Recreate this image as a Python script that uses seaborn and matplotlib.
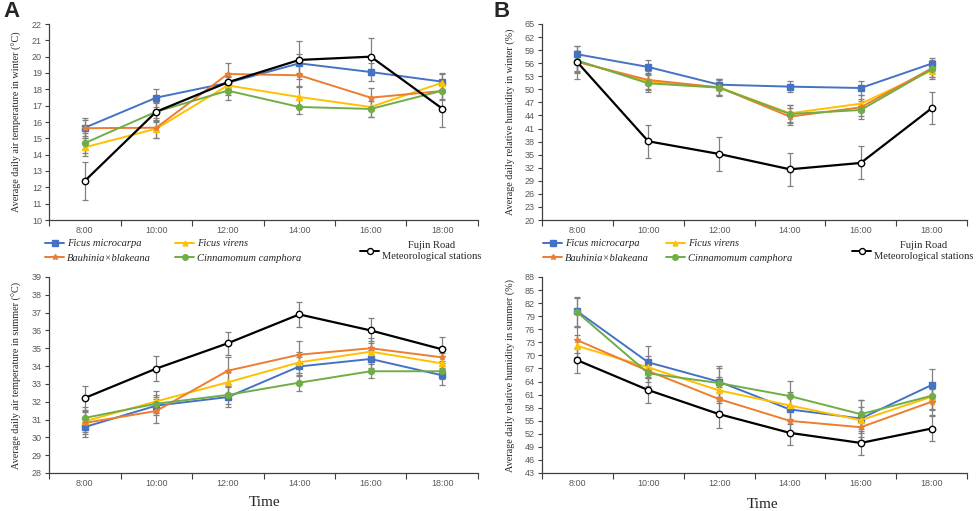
import numpy as np
import matplotlib
matplotlib.use("Agg")
import matplotlib.pyplot as plt
import seaborn as sns
from matplotlib.lines import Line2D

# ---- data ----
times = ["8:00", "10:00", "12:00", "14:00", "16:00", "18:00"]
series_names = ["Ficus microcarpa", "Ficus virens", "Bauhinia×blakeana",
                "Cinnamomum camphora", "Fujin Road\nMeteorological stations"]

# winter air temperature (°C)
temp_winter_microcarpa = [15.65, 17.49, 18.40, 19.59, 19.06, 18.47]
temp_winter_virens = [14.45, 15.59, 18.24, 17.53, 16.92, 18.41]
temp_winter_bauhinia = [15.62, 15.65, 18.94, 18.86, 17.49, 17.90]
temp_winter_camphora = [14.71, 16.63, 17.92, 16.92, 16.80, 17.92]
temp_winter_fujin = [12.39, 16.63, 18.43, 19.80, 20.00, 16.82]
temp_winter_err_microcarpa = [0.60, 0.55, 0.35, 0.60, 0.55, 0.55]
temp_winter_err_virens = [0.55, 0.55, 0.60, 0.60, 0.60, 0.55]
temp_winter_err_bauhinia = [0.50, 0.60, 0.65, 0.65, 0.60, 0.50]
temp_winter_err_camphora = [0.60, 0.55, 0.60, 0.40, 0.50, 0.55]
temp_winter_err_fujin = [1.15, 0.60, 0.50, 1.15, 1.15, 1.15]

# summer air temperature (°C)
temp_summer_microcarpa = [30.58, 31.78, 32.26, 33.98, 34.40, 33.48]
temp_summer_virens = [30.90, 32.02, 33.09, 34.21, 34.81, 34.15]
temp_summer_bauhinia = [30.81, 31.48, 33.74, 34.64, 35.00, 34.49]
temp_summer_camphora = [31.09, 31.89, 32.38, 33.07, 33.71, 33.71]
temp_summer_fujin = [32.21, 33.86, 35.28, 36.90, 36.00, 34.94]
temp_summer_err_microcarpa = [0.55, 0.50, 0.55, 0.55, 0.50, 0.55]
temp_summer_err_virens = [0.60, 0.60, 0.60, 0.60, 0.60, 0.60]
temp_summer_err_bauhinia = [0.60, 0.70, 0.75, 0.75, 0.60, 0.60]
temp_summer_err_camphora = [0.60, 0.50, 0.50, 0.45, 0.40, 0.45]
temp_summer_err_fujin = [0.68, 0.68, 0.66, 0.68, 0.68, 0.68]

# winter relative humidity (%)
rh_winter_microcarpa = [58.04, 55.13, 51.07, 50.62, 50.31, 55.90]
rh_winter_virens = [56.40, 51.76, 50.46, 44.50, 46.70, 54.30]
rh_winter_bauhinia = [56.28, 52.15, 50.46, 43.73, 45.87, 54.82]
rh_winter_camphora = [56.60, 51.38, 50.39, 44.34, 45.26, 54.60]
rh_winter_fujin = [56.20, 38.07, 35.16, 31.64, 33.10, 45.64]
rh_winter_err_microcarpa = [2.0, 1.5, 1.3, 1.3, 1.5, 1.3]
rh_winter_err_virens = [2.5, 2.0, 2.0, 2.0, 2.0, 2.0]
rh_winter_err_bauhinia = [2.5, 2.0, 1.8, 2.0, 2.0, 2.0]
rh_winter_err_camphora = [2.3, 2.0, 1.8, 2.0, 2.0, 1.8]
rh_winter_err_fujin = [3.8, 3.8, 3.8, 3.8, 3.8, 3.7]

# summer relative humidity (%)
rh_summer_microcarpa = [80.09, 68.41, 63.96, 57.59, 55.51, 63.19]
rh_summer_virens = [72.18, 67.26, 61.96, 58.51, 55.13, 60.50]
rh_summer_bauhinia = [73.48, 66.42, 59.97, 54.97, 53.51, 59.35]
rh_summer_camphora = [79.86, 65.88, 63.65, 60.65, 56.51, 60.73]
rh_summer_fujin = [68.88, 62.04, 56.51, 52.21, 49.90, 53.21]
rh_summer_err_microcarpa = [3.4, 3.7, 3.5, 3.3, 4.3, 3.8]
rh_summer_err_virens = [2.5, 2.5, 3.0, 3.0, 3.0, 3.0]
rh_summer_err_bauhinia = [3.0, 2.5, 2.7, 3.0, 3.0, 3.0]
rh_summer_err_camphora = [3.4, 3.0, 3.5, 3.4, 3.3, 3.0]
rh_summer_err_fujin = [2.9, 2.9, 3.1, 2.8, 2.8, 2.8]

# ---- styling ----
sns.set_style("ticks")
plt.rcParams["font.family"] = ["Liberation Sans", "DejaVu Sans"]

styles = [
    dict(color="#4472C4", marker="s", markersize=4.8, mfc="#4472C4"),
    dict(color="#FFC000", marker="^", markersize=3.8, mfc="#FFC000"),
    dict(color="#ED7D31", marker="*", markersize=4.2, mfc="#ED7D31"),
    dict(color="#70AD47", marker="o", markersize=4.3, mfc="#70AD47"),
    dict(color="black", marker="o", markersize=4.6, mfc="white"),
]
x = np.arange(len(times))
tick_grey = "#595959"
serif = ["Liberation Serif", "DejaVu Serif"]

W, H = 976, 511
fig = plt.figure(figsize=(W / 100, H / 100), dpi=100)


def px_axes(l, t, r, b):
    return fig.add_axes([l / W, 1 - b / H, (r - l) / W, (b - t) / H])


def draw_panel(ax, values, errors, ylim, step, ylabel):
    for vals, errs in zip(values, errors):
        ax.errorbar(x, vals, yerr=errs, fmt="none", ecolor="#808080",
                    elinewidth=0.9, capsize=2.5, capthick=0.9, zorder=2)
    for vals, st in zip(values, styles):
        sns.lineplot(x=x, y=vals, ax=ax, color=st["color"], marker=st["marker"],
                     markersize=st["markersize"], markerfacecolor=st["mfc"],
                     markeredgecolor=st["color"], markeredgewidth=1,
                     linewidth=1.4 if st["color"] != "black" else 1.6, zorder=3)
    ax.set_xlim(-0.5, len(times) - 0.5)
    ax.set_ylim(*ylim)
    ax.set_yticks(np.arange(ylim[0], ylim[1] + 0.01, step))
    ax.set_xticks(np.arange(-0.5, len(times), 1.0))
    ax.set_xticklabels([])
    ax.set_xticks(x, minor=True)
    ax.set_xticklabels(times, minor=True)
    ax.tick_params(axis="x", which="major", length=4, width=0.8, color="#404040")
    ax.tick_params(axis="x", which="minor", length=0, labelsize=6.5,
                   labelcolor=tick_grey, pad=4)
    ax.tick_params(axis="y", length=3, width=0.8, color="#404040",
                   labelsize=6.5, labelcolor=tick_grey, pad=2)
    for sp in ("left", "bottom"):
        ax.spines[sp].set_color("#404040")
        ax.spines[sp].set_linewidth(0.9)
    sns.despine(ax=ax)
    ax.set_xlabel("")
    ax.set_ylabel(ylabel, family=serif, fontsize=7.3)
    ax.yaxis.set_label_coords(-0.063, 0.5)


def add_legend(ax, x0, xf, colspace):
    handles = [Line2D([], [], color=st["color"], marker=st["marker"],
                      markersize=st["markersize"] - 0.3, markerfacecolor=st["mfc"],
                      markeredgecolor=st["color"], linewidth=1.4)
               for st in styles]
    order = [0, 2, 1, 3]
    leg1 = ax.legend([handles[i] for i in order], [series_names[i] for i in order],
                     ncol=2, loc="upper left", bbox_to_anchor=(x0 / W, 1 - 239 / H),
                     bbox_transform=fig.transFigure, frameon=False,
                     prop=dict(family=serif, style="italic", size=7.6),
                     handlelength=1.8, handletextpad=0.3, columnspacing=colspace,
                     labelspacing=0.45, borderpad=0, borderaxespad=0)
    ax.add_artist(leg1)
    leg2 = ax.legend([handles[4]], [series_names[4]], loc="upper left",
                     bbox_to_anchor=(xf / W, 1 - 241 / H), bbox_transform=fig.transFigure,
                     frameon=False, prop=dict(family=serif, size=7.6),
                     handlelength=1.8, handletextpad=0.3, labelspacing=0.2,
                     borderpad=0, borderaxespad=0)
    for t in leg2.get_texts():
        t.set_multialignment("center")
        t.set_linespacing(1.25)


ax_a1 = px_axes(49, 24, 478, 220)
ax_a2 = px_axes(49, 277, 478, 473)
ax_b1 = px_axes(542, 24, 967, 220)
ax_b2 = px_axes(542, 277, 967, 473)

draw_panel(ax_a1,
           [temp_winter_microcarpa, temp_winter_virens, temp_winter_bauhinia,
            temp_winter_camphora, temp_winter_fujin],
           [temp_winter_err_microcarpa, temp_winter_err_virens, temp_winter_err_bauhinia,
            temp_winter_err_camphora, temp_winter_err_fujin],
           (10, 22), 1, "Average daily air temperature in winter (°C)")
draw_panel(ax_a2,
           [temp_summer_microcarpa, temp_summer_virens, temp_summer_bauhinia,
            temp_summer_camphora, temp_summer_fujin],
           [temp_summer_err_microcarpa, temp_summer_err_virens, temp_summer_err_bauhinia,
            temp_summer_err_camphora, temp_summer_err_fujin],
           (28, 39), 1, "Average daily air temperature in summer (°C)")
draw_panel(ax_b1,
           [rh_winter_microcarpa, rh_winter_virens, rh_winter_bauhinia,
            rh_winter_camphora, rh_winter_fujin],
           [rh_winter_err_microcarpa, rh_winter_err_virens, rh_winter_err_bauhinia,
            rh_winter_err_camphora, rh_winter_err_fujin],
           (20, 65), 3, "Average daily relative humidity in winter (%)")
draw_panel(ax_b2,
           [rh_summer_microcarpa, rh_summer_virens, rh_summer_bauhinia,
            rh_summer_camphora, rh_summer_fujin],
           [rh_summer_err_microcarpa, rh_summer_err_virens, rh_summer_err_bauhinia,
            rh_summer_err_camphora, rh_summer_err_fujin],
           (43, 88), 3, "Average daily relative humidity in summer (%)")

add_legend(ax_a1, 45, 360, 2.3)
add_legend(ax_b1, 543, 852, 1.6)

fig.text(265 / W, 1 - 502 / H, "Time", family=serif, fontsize=11, ha="center", va="center")
fig.text(763 / W, 1 - 504 / H, "Time", family=serif, fontsize=11, ha="center", va="center")
fig.text(3 / W, 1 - 11 / H, "A", fontsize=16, fontweight="bold", va="center", ha="left")
fig.text(493 / W, 1 - 11 / H, "B", fontsize=16, fontweight="bold", va="center", ha="left")

fig.savefig("out.png", dpi=100)
